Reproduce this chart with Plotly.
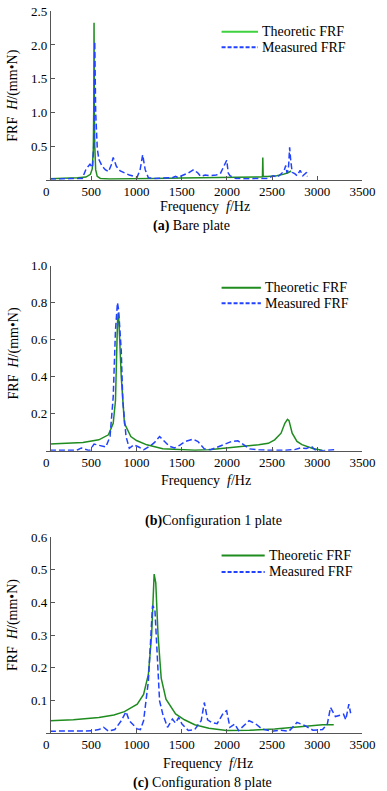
import plotly.graph_objects as go

# ---------------- data ----------------
a_theo_f = [42, 200, 350, 440, 490, 510, 522, 527, 530, 533, 538, 548, 565, 600, 700, 900, 1200, 1500, 1800, 2100,
            2350, 2393, 2397, 2401, 2450, 2550, 2620, 2670, 2710]
a_theo_h = [0.015, 0.02, 0.03, 0.04, 0.08, 0.16, 0.45, 1.1, 2.33, 1.1, 0.5, 0.15, 0.05, 0.02, 0.012, 0.012, 0.02, 0.025,
            0.028, 0.03, 0.04, 0.045, 0.33, 0.05, 0.05, 0.06, 0.08, 0.1, 0.13]
a_meas_f = [42, 150, 300, 400, 442, 485, 513, 530, 538, 548, 566, 584, 620, 654, 690, 720, 742, 777, 820, 866, 920, 972,
            1007, 1040, 1068, 1096, 1131, 1200, 1300, 1396, 1432, 1460, 1500, 1573, 1633, 1679, 1710, 1760, 1820, 1880,
            1927, 1980, 1998, 2015, 2033, 2060, 2100, 2200, 2300, 2400, 2460, 2510, 2560, 2610, 2634, 2651, 2665, 2680,
            2694, 2705, 2722, 2750, 2776, 2810, 2840, 2865, 2882, 2890]
a_meas_h = [0.01, 0.012, 0.015, 0.02, 0.16, 0.23, 0.18, 0.6, 2.05, 1.0, 0.46, 0.3, 0.2, 0.15, 0.12, 0.22, 0.33, 0.2,
            0.13, 0.1, 0.07, 0.05, 0.04, 0.15, 0.37, 0.15, 0.03, 0.02, 0.02, 0.03, 0.05, 0.03, 0.06, 0.1, 0.15, 0.1,
            0.05, 0.07, 0.06, 0.07, 0.09, 0.235, 0.29, 0.1, 0.06, 0.04, 0.02, 0.015, 0.02, 0.015, 0.02, 0.06, 0.04,
            0.1, 0.14, 0.21, 0.1, 0.15, 0.48, 0.3, 0.11, 0.09, 0.06, 0.14, 0.06, 0.09, 0.11, 0.05]

b_theo_f = [42, 200, 406, 583, 689, 742, 767, 789, 797, 805, 831, 866, 937, 1000, 1114, 1290, 1450, 1644, 1800, 1997,
            2200, 2351, 2458, 2528, 2599, 2641, 2670, 2687, 2722, 2775, 2830, 2882, 2950, 3023, 3058]
b_theo_h = [0.037, 0.04, 0.045, 0.059, 0.086, 0.148, 0.27, 0.69, 0.745, 0.70, 0.40, 0.148, 0.077, 0.055, 0.032, 0.011,
            0.006, 0.003, 0.006, 0.014, 0.022, 0.032, 0.04, 0.059, 0.095, 0.148, 0.17, 0.163, 0.095, 0.05, 0.033,
            0.023, 0.012, 0.005, 0.002]
b_meas_f = [42, 200, 338, 389, 442, 480, 530, 575, 618, 660, 707, 742, 767, 789, 802, 831, 848, 884, 920, 972, 1025,
            1078, 1149, 1200, 1255, 1290, 1362, 1420, 1480, 1538, 1626, 1680, 1750, 1820, 1927, 1997, 2050, 2121,
            2192, 2250, 2351, 2500, 2650, 2750, 2811, 2880, 2935, 2975, 3058, 3130, 3200, 3220]
b_meas_h = [0.002, 0.002, 0.002, 0.015, 0.005, 0.0, 0.036, 0.03, 0.023, 0.02, 0.077, 0.29, 0.65, 0.80, 0.76, 0.54,
            0.27, 0.077, 0.013, 0.032, 0.02, 0.005, 0.025, 0.045, 0.077, 0.06, 0.025, 0.015, 0.03, 0.05, 0.063, 0.05,
            0.01, 0.005, 0.025, 0.041, 0.05, 0.054, 0.03, 0.01, 0.005, 0.002, 0.003, 0.006, 0.015, 0.012, 0.024,
            0.005, 0.0, 0.002, 0.005, 0.007]

c_theo_f = [42, 300, 583, 750, 866, 1008, 1078, 1131, 1167, 1185, 1195, 1213, 1238, 1273, 1326, 1432, 1530, 1644, 1800,
            1997, 2250, 2528, 2800, 3058, 3182]
c_theo_h = [0.037, 0.04, 0.047, 0.055, 0.065, 0.088, 0.118, 0.179, 0.30, 0.45, 0.487, 0.46, 0.30, 0.168, 0.103, 0.058,
            0.04, 0.025, 0.014, 0.007, 0.008, 0.012, 0.018, 0.025, 0.025]
c_meas_f = [42, 300, 500, 583, 636, 689, 760, 831, 884, 920, 1008, 1043, 1078, 1131, 1177, 1203, 1230, 1255, 1290,
            1343, 1397, 1430, 1467, 1503, 1573, 1644, 1715, 1750, 1786, 1830, 1892, 1962, 1997, 2033, 2086, 2130,
            2245, 2316, 2387, 2493, 2600, 2687, 2775, 2864, 2952, 3058, 3111, 3146, 3200, 3253, 3290, 3315, 3349, 3369]
c_meas_h = [0.005, 0.005, 0.006, 0.01, 0.017, 0.005, 0.01, 0.037, 0.065, 0.037, 0.012, 0.01, 0.037, 0.158, 0.39, 0.38,
            0.25, 0.098, 0.058, 0.017, 0.042, 0.03, 0.047, 0.027, 0.007, 0.01, 0.037, 0.093, 0.04, 0.032, 0.028,
            0.062, 0.068, 0.017, 0.027, 0.007, 0.037, 0.028, 0.012, 0.005, 0.008, 0.005, 0.032, 0.022, 0.008, 0.01,
            0.027, 0.078, 0.05, 0.055, 0.057, 0.04, 0.088, 0.06]

x_ticks = [0, 500, 1000, 1500, 2000, 2500, 3000, 3500]
a_yticks = [0.5, 1.0, 1.5, 2.0, 2.5]
b_yticks = [0.2, 0.4, 0.6, 0.8, 1.0]
c_yticks = [0.1, 0.2, 0.3, 0.4, 0.5, 0.6]
legend_names = ["Theoretic FRF", "Measured FRF"]
captions = ["<b>(a)</b> Bare plate", "<b>(b)</b>Configuration 1 plate", "<b>(c)</b> Configuration 8 plate"]
x_title = "Frequency\u00a0\u00a0<i>f</i>/Hz"
y_title = "FRF\u00a0\u00a0<i>H</i>/(mm\u2022N)"

# ---------------- layout helpers ----------------
W, H = 387, 791
FONT = "Liberation Serif"
BLUE = "#2142ff"
GREEN = "#1f8c1f"


def px(x):
    return x / W


def py(y):
    return 1 - y / H


panels = [
    dict(tf=a_theo_f, th=a_theo_h, mf=a_meas_f, mh=a_meas_h, yt=a_yticks, ymax=2.5, top=4.3, bot=174.3,
         xt_y=201.7, xt_x=211, cap_y=221, cap_x=197, yt_y=90, leg_y=(25, 40.7), leg_x2=266, leg_col="#3fd13f"),
    dict(tf=b_theo_f, th=b_theo_h, mf=b_meas_f, mh=b_meas_h, yt=b_yticks, ymax=1.0, top=261, bot=447.7,
         xt_y=478, xt_x=212, cap_y=519, cap_x=220, yt_y=350, leg_y=(283.3, 299), leg_x2=269, leg_col=GREEN),
    dict(tf=c_theo_f, th=c_theo_h, mf=c_meas_f, mh=c_meas_h, yt=c_yticks, ymax=0.6, top=535, bot=732.3,
         xt_y=763, xt_x=214, cap_y=783, cap_x=208, yt_y=624, leg_y=(553.3, 570), leg_x2=273, leg_col=GREEN),
]

fig = go.Figure()
annotations = []
shapes = []
X0, X1, YAX = 45, 375, 49

for i, p in enumerate(panels):
    n = "" if i == 0 else str(i + 1)
    xa, ya = "x" + n, "y" + n
    fig.add_trace(go.Scatter(x=p["tf"], y=p["th"], mode="lines", xaxis=xa, yaxis=ya,
                             line=dict(color=GREEN, width=1.5), showlegend=False))
    fig.add_trace(go.Scatter(x=p["mf"], y=p["mh"], mode="lines", xaxis=xa, yaxis=ya,
                             line=dict(color=BLUE, width=1.5, dash="6px,3px"), showlegend=False))
    axis_common = dict(showgrid=False, zeroline=False, showline=True, linecolor="#555", linewidth=1,
                       ticks="inside", ticklen=4, tickcolor="#555", ticklabeloverflow="allow",
                       tickfont=dict(family=FONT, size=13, color="black"))
    fig.update_layout(**{
        "xaxis" + n: dict(domain=[px(X0), px(X1)], range=[0, 3500], anchor=ya, tickvals=x_ticks,
                          ticktext=[str(v) for v in x_ticks], **axis_common),
        "yaxis" + n: dict(domain=[py(p["bot"]), py(p["top"])], range=[0, p["ymax"]], anchor="free",
                          position=px(YAX), tickvals=p["yt"], ticktext=["%.1f" % v for v in p["yt"]],
                          **axis_common),
    })
    # axis titles & caption
    annotations.append(dict(x=px(p["xt_x"]), y=py(p["xt_y"]), xref="paper", yref="paper", text=x_title,
                            showarrow=False, xanchor="center", yanchor="middle",
                            font=dict(family=FONT, size=14, color="black")))
    annotations.append(dict(x=px(11), y=py(p["yt_y"]), xref="paper", yref="paper", text=y_title,
                            showarrow=False, textangle=-90, xanchor="center", yanchor="middle",
                            font=dict(family=FONT, size=14, color="black")))
    annotations.append(dict(x=px(p["cap_x"]), y=py(p["cap_y"]), xref="paper", yref="paper", text=captions[i],
                            showarrow=False, xanchor="center", yanchor="middle",
                            font=dict(family=FONT, size=14, color="black")))
    # legend
    for k, (nm, col, dash) in enumerate([(legend_names[0], p["leg_col"], "solid"),
                                         (legend_names[1], BLUE, "4px,2px")]):
        yy = py(p["leg_y"][k])
        shapes.append(dict(type="line", xref="paper", yref="paper", x0=px(228), x1=px(p["leg_x2"]), y0=yy, y1=yy,
                           line=dict(color=col, width=2, dash=dash)))
        annotations.append(dict(x=px(p["leg_x2"] + 2), y=yy, xref="paper", yref="paper", text=nm,
                                showarrow=False, xanchor="left", yanchor="middle",
                                font=dict(family=FONT, size=14, color="black")))

fig.update_layout(width=W, height=H, margin=dict(l=0, r=0, t=0, b=0), plot_bgcolor="white",
                  paper_bgcolor="white", annotations=annotations, shapes=shapes, showlegend=False)
fig.write_html("out.html", config={"displayModeBar": False},
               post_script="document.body.style.margin='0px';document.body.style.overflow='hidden';")
